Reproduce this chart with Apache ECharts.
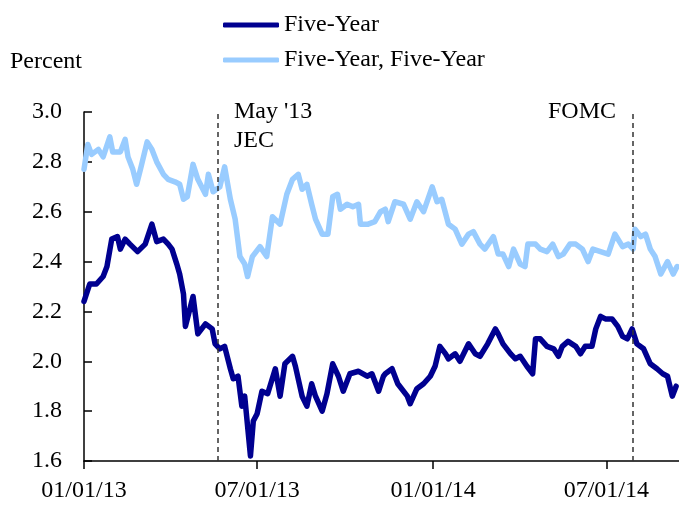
<!DOCTYPE html>
<html>
<head>
<meta charset="utf-8">
<script src="https://cdn.jsdelivr.net/npm/echarts@6/dist/echarts.min.js"></script>
<style>
html,body{margin:0;padding:0;background:#fff;}
#chart{width:679px;height:506px;}
</style>
</head>
<body>
<div id="chart"></div>
<script>
// ---- Data ----
var fiveYearDates = ['2013-01-01','2013-01-07','2013-01-14','2013-01-21','2013-01-25','2013-01-30','2013-02-05','2013-02-08','2013-02-13','2013-02-18','2013-02-26','2013-03-06','2013-03-13','2013-03-18','2013-03-25','2013-03-30','2013-04-03','2013-04-08','2013-04-11','2013-04-15','2013-04-17','2013-04-19','2013-04-25','2013-04-30','2013-05-08','2013-05-15','2013-05-18','2013-05-23','2013-05-28','2013-06-03','2013-06-06','2013-06-11','2013-06-15','2013-06-18','2013-06-24','2013-06-27','2013-07-01','2013-07-06','2013-07-12','2013-07-20','2013-07-25','2013-07-30','2013-08-07','2013-08-10','2013-08-17','2013-08-22','2013-08-27','2013-08-31','2013-09-07','2013-09-12','2013-09-18','2013-09-24','2013-09-29','2013-10-06','2013-10-15','2013-10-24','2013-10-29','2013-11-05','2013-11-10','2013-11-12','2013-11-19','2013-11-25','2013-12-05','2013-12-08','2013-12-15','2013-12-22','2013-12-29','2014-01-03','2014-01-08','2014-01-14','2014-01-17','2014-01-24','2014-01-29','2014-02-07','2014-02-14','2014-02-19','2014-02-27','2014-03-07','2014-03-10','2014-03-15','2014-03-23','2014-03-28','2014-04-02','2014-04-09','2014-04-15','2014-04-18','2014-04-23','2014-04-30','2014-05-07','2014-05-12','2014-05-16','2014-05-22','2014-05-30','2014-06-04','2014-06-09','2014-06-16','2014-06-20','2014-06-25','2014-06-30','2014-07-07','2014-07-13','2014-07-18','2014-07-23','2014-07-28','2014-08-02','2014-08-09','2014-08-16','2014-08-23','2014-08-29','2014-09-03','2014-09-08','2014-09-12'];
var fiveYearValues = [2.24,2.31,2.31,2.34,2.38,2.49,2.50,2.45,2.49,2.47,2.44,2.47,2.55,2.48,2.49,2.47,2.45,2.39,2.35,2.27,2.14,2.14,2.26,2.11,2.15,2.13,2.07,2.05,2.06,1.97,1.93,1.94,1.82,1.86,1.62,1.76,1.79,1.88,1.87,1.97,1.86,1.99,2.02,1.98,1.86,1.82,1.91,1.86,1.80,1.87,1.99,1.94,1.88,1.95,1.96,1.94,1.95,1.88,1.94,1.95,1.97,1.91,1.86,1.83,1.89,1.91,1.94,1.98,2.06,2.03,2.01,2.03,2.00,2.07,2.03,2.02,2.07,2.13,2.11,2.07,2.03,2.01,2.02,1.98,1.95,2.09,2.09,2.06,2.05,2.02,2.06,2.08,2.06,2.03,2.06,2.06,2.13,2.18,2.17,2.17,2.14,2.10,2.09,2.13,2.07,2.05,1.99,1.97,1.95,1.94,1.86,1.90];

var fiveFiveDates = ['2013-01-01','2013-01-05','2013-01-09','2013-01-16','2013-01-21','2013-01-28','2013-01-31','2013-02-08','2013-02-13','2013-02-16','2013-02-21','2013-02-25','2013-03-01','2013-03-08','2013-03-13','2013-03-18','2013-03-25','2013-03-30','2013-04-06','2013-04-11','2013-04-15','2013-04-19','2013-04-25','2013-04-30','2013-05-08','2013-05-11','2013-05-16','2013-05-23','2013-05-28','2013-06-03','2013-06-08','2013-06-13','2013-06-18','2013-06-21','2013-06-26','2013-07-04','2013-07-11','2013-07-17','2013-07-25','2013-08-01','2013-08-07','2013-08-13','2013-08-17','2013-08-22','2013-08-27','2013-08-31','2013-09-07','2013-09-13','2013-09-18','2013-09-23','2013-09-26','2013-10-03','2013-10-09','2013-10-15','2013-10-17','2013-10-25','2013-11-01','2013-11-07','2013-11-12','2013-11-15','2013-11-22','2013-12-01','2013-12-08','2013-12-15','2013-12-22','2013-12-31','2014-01-05','2014-01-10','2014-01-17','2014-01-24','2014-01-31','2014-02-07','2014-02-12','2014-02-19','2014-02-24','2014-03-05','2014-03-10','2014-03-15','2014-03-21','2014-03-26','2014-04-02','2014-04-07','2014-04-10','2014-04-18','2014-04-23','2014-04-30','2014-05-06','2014-05-12','2014-05-17','2014-05-24','2014-05-30','2014-06-06','2014-06-12','2014-06-17','2014-06-25','2014-07-03','2014-07-10','2014-07-18','2014-07-24','2014-07-29','2014-07-31','2014-08-06','2014-08-11','2014-08-16','2014-08-21','2014-08-27','2014-09-03','2014-09-09','2014-09-13'];
var fiveFiveValues = [2.77,2.87,2.83,2.85,2.82,2.90,2.84,2.84,2.89,2.82,2.77,2.71,2.77,2.88,2.85,2.80,2.75,2.73,2.72,2.71,2.65,2.66,2.79,2.73,2.67,2.75,2.68,2.70,2.78,2.65,2.57,2.42,2.39,2.34,2.42,2.46,2.42,2.58,2.55,2.67,2.73,2.75,2.69,2.71,2.63,2.57,2.51,2.51,2.66,2.67,2.61,2.63,2.62,2.63,2.55,2.55,2.56,2.60,2.61,2.56,2.64,2.63,2.57,2.64,2.60,2.70,2.64,2.65,2.55,2.53,2.47,2.51,2.52,2.47,2.45,2.50,2.43,2.43,2.38,2.45,2.39,2.38,2.47,2.47,2.45,2.44,2.47,2.42,2.43,2.47,2.47,2.45,2.40,2.45,2.44,2.43,2.51,2.46,2.47,2.45,2.53,2.50,2.51,2.45,2.42,2.35,2.40,2.35,2.38];

var xTickDates = ['2013-01-01','2013-07-01','2014-01-01','2014-07-01'];
var xRange = ['2013-01-01','2014-09-15'];
var eventDates = ['2013-05-21','2014-07-29'];
var yTicks = [1.6, 1.8, 2.0, 2.2, 2.4, 2.6, 2.8, 3.0];
var seriesNames = ['Five-Year', 'Five-Year, Five-Year'];

// ---- Build ----
function parse(s) { var p = s.split('-'); return Date.UTC(+p[0], +p[1] - 1, +p[2]); }
function zip(d, v) { return d.map(function (x, i) { return [parse(x), v[i]]; }); }
function pad(n) { return (n < 10 ? '0' : '') + n; }

var FONT = 'Liberation Serif';
var chart = echarts.init(document.getElementById('chart'), null, {renderer: 'canvas'});

var option = {
  backgroundColor: '#ffffff',
  animation: false,
  textStyle: {fontFamily: FONT, color: '#000'},
  grid: {left: 84, right: 0, top: 112, bottom: 45, containLabel: false},
  legend: {
    orient: 'vertical',
    left: 218,
    top: 8,
    itemWidth: 56,
    itemHeight: 5,
    itemGap: 11,
    icon: 'roundRect',
    textStyle: {fontFamily: FONT, fontSize: 24, color: '#000'},
    data: seriesNames
  },
  xAxis: {
    type: 'value',
    min: parse(xRange[0]),
    max: parse(xRange[1]),
    axisLine: {show: true, lineStyle: {color: '#000', width: 1.5}},
    axisTick: {show: true, inside: false, length: 8, lineStyle: {color: '#000', width: 1.5},
               customValues: xTickDates.map(parse)},
    axisLabel: {
      show: true, fontFamily: FONT, fontSize: 24, color: '#000', margin: 18,
      customValues: xTickDates.map(parse),
      formatter: function (val) {
        var d = new Date(val);
        return pad(d.getUTCMonth() + 1) + '/' + pad(d.getUTCDate()) + '/' + pad(d.getUTCFullYear() % 100);
      }
    },
    splitLine: {show: false}
  },
  yAxis: {
    type: 'value',
    min: yTicks[0],
    max: yTicks[yTicks.length - 1],
    interval: 0.2,
    axisLine: {show: true, lineStyle: {color: '#000', width: 1.5}},
    axisTick: {show: true, inside: true, length: 8, lineStyle: {color: '#000', width: 1.5}},
    axisLabel: {fontFamily: FONT, fontSize: 24, color: '#000', margin: 22,
                formatter: function (v) { return v.toFixed(1); }},
    splitLine: {show: false}
  },
  graphic: [
    {type: 'text', left: 10, top: 50, style: {text: 'Percent', font: '24px "Liberation Serif"', fill: '#000'}},
    {type: 'text', left: 234, top: 100, style: {text: "May '13", font: '24px "Liberation Serif"', fill: '#000'}},
    {type: 'text', left: 234, top: 129, style: {text: 'JEC', font: '24px "Liberation Serif"', fill: '#000'}},
    {type: 'text', left: 548, top: 100, style: {text: 'FOMC', font: '24px "Liberation Serif"', fill: '#000'}}
  ],
  series: [
    {
      name: seriesNames[1],
      type: 'line',
      data: zip(fiveFiveDates, fiveFiveValues),
      showSymbol: false,
      symbol: 'none',
      color: '#99CCFF',
      lineStyle: {color: '#99CCFF', width: 5.5, cap: 'round', join: 'round'},
      z: 2
    },
    {
      name: seriesNames[0],
      type: 'line',
      data: zip(fiveYearDates, fiveYearValues),
      showSymbol: false,
      symbol: 'none',
      color: '#000090',
      lineStyle: {color: '#000090', width: 5.5, cap: 'round', join: 'round'},
      z: 3,
      markLine: {
        silent: true,
        symbol: ['none', 'none'],
        label: {show: false},
        lineStyle: {color: '#333', type: [5, 4], width: 1.5},
        data: eventDates.map(function (d) { return {xAxis: parse(d)}; })
      }
    }
  ]
};
chart.setOption(option);
</script>
</body>
</html>
